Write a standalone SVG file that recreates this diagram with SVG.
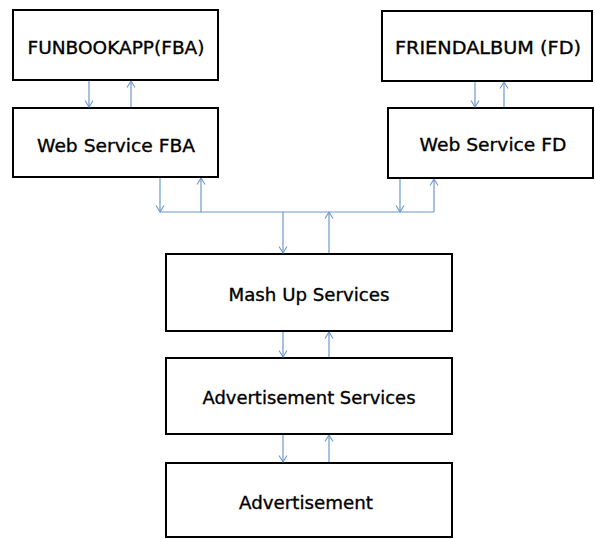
<svg xmlns="http://www.w3.org/2000/svg" width="595" height="539" viewBox="0 0 595 539">
<defs>
<marker id="ah" viewBox="0 0 10 10" refX="9.5" refY="5" markerWidth="10" markerHeight="10" markerUnits="userSpaceOnUse" orient="auto">
<path d="M3,1 L9.5,5 L3,9" fill="none" stroke="#6f97cf" stroke-width="1.1"/>
</marker>
<style>
.box{fill:#fff;stroke:#000;stroke-width:2}
.lbl{font-family:"Comic Sans MS","DejaVu Sans","Liberation Sans",sans-serif;font-size:18px;fill:#000;stroke:#000;stroke-width:0.35;text-anchor:middle}
.c{fill:none;stroke:#6f97cf;stroke-width:1.2}
</style>
</defs>
<rect width="595" height="539" fill="#fff"/>
<g id="fba">
<rect class="box" x="13" y="10" width="205" height="70"/>
<text class="lbl" x="116" y="54" textLength="177" lengthAdjust="spacingAndGlyphs">FUNBOOKAPP(FBA)</text>
</g>
<g id="wsfba">
<rect class="box" x="13" y="108" width="205" height="69"/>
<text class="lbl" x="116" y="152" textLength="158" lengthAdjust="spacingAndGlyphs">Web Service FBA</text>
</g>
<g id="fd">
<rect class="box" x="382" y="11" width="210" height="70"/>
<text class="lbl" x="488" y="54" textLength="186" lengthAdjust="spacingAndGlyphs">FRIENDALBUM (FD)</text>
</g>
<g id="wsfd">
<rect class="box" x="388" y="108" width="205" height="70"/>
<text class="lbl" x="493" y="151" textLength="147" lengthAdjust="spacingAndGlyphs">Web Service FD</text>
</g>
<g id="mashup">
<rect class="box" x="166" y="254" width="286" height="77"/>
<text class="lbl" x="309" y="301" textLength="161" lengthAdjust="spacingAndGlyphs">Mash Up Services</text>
</g>
<g id="advsvc">
<rect class="box" x="166" y="358" width="286" height="76"/>
<text class="lbl" x="309" y="404" textLength="213" lengthAdjust="spacingAndGlyphs">Advertisement Services</text>
</g>
<g id="adv">
<rect class="box" x="166" y="463" width="286" height="74"/>
<text class="lbl" x="306" y="509" textLength="134" lengthAdjust="spacingAndGlyphs">Advertisement</text>
</g>
<g id="connectors">
<line class="c" x1="89" y1="81" x2="89" y2="107" marker-end="url(#ah)"/>
<line class="c" x1="131" y1="107" x2="131" y2="81" marker-end="url(#ah)"/>
<line class="c" x1="475" y1="82" x2="475" y2="107" marker-end="url(#ah)"/>
<line class="c" x1="504" y1="107" x2="504" y2="82" marker-end="url(#ah)"/>
<line class="c" x1="160" y1="178" x2="160" y2="212" marker-end="url(#ah)"/>
<line class="c" x1="201" y1="212" x2="201" y2="178" marker-end="url(#ah)"/>
<line class="c" x1="400" y1="179" x2="400" y2="212" marker-end="url(#ah)"/>
<line class="c" x1="434" y1="212" x2="434" y2="179" marker-end="url(#ah)"/>
<line class="c" x1="160" y1="212" x2="434" y2="212"/>
<line class="c" x1="283" y1="212" x2="283" y2="253" marker-end="url(#ah)"/>
<line class="c" x1="329" y1="253" x2="329" y2="212" marker-end="url(#ah)"/>
<line class="c" x1="283" y1="332" x2="283" y2="357" marker-end="url(#ah)"/>
<line class="c" x1="329" y1="357" x2="329" y2="332" marker-end="url(#ah)"/>
<line class="c" x1="283" y1="435" x2="283" y2="462" marker-end="url(#ah)"/>
<line class="c" x1="329" y1="462" x2="329" y2="435" marker-end="url(#ah)"/>
</g>
</svg>
